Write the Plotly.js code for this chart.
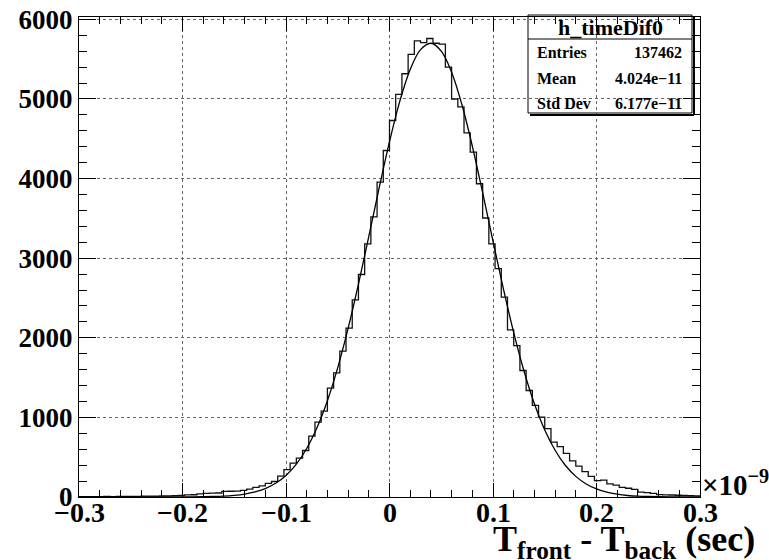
<!DOCTYPE html>
<html>
<head>
<meta charset="utf-8">
<script src="https://cdn.plot.ly/plotly-3.0.1.min.js"></script>
<style>html,body{margin:0;padding:0;background:#fff;}#chart{width:769px;height:560px;}</style>
</head>
<body>
<div id="chart"></div>
<script>
// ---- data ----
const histName = "h_timeDif0";
const xMin = -0.3;
const binWidth = 0.006;
const counts = [
  4, 3, 5, 4, 6, 5, 7, 8, 6, 9,
  10, 12, 11, 14, 15, 18, 21, 26, 28, 40,
  46, 48, 50, 70, 72, 74, 84, 100, 120, 140,
  170, 195, 262, 345, 425, 488, 584, 764, 940, 1078,
  1367, 1560, 1832, 2121, 2477, 2795, 3181, 3520, 3955, 4353,
  4730, 5057, 5317, 5560, 5730, 5708, 5760, 5700, 5690, 5400,
  5000, 4900, 4575, 4332, 3935, 3505, 3181, 2870, 2510, 2100,
  1902, 1589, 1338, 1150, 1004, 860, 690, 632, 548, 455,
  388, 320, 258, 205, 212, 166, 150, 120, 110, 95,
  62, 55, 45, 30, 27, 25, 22, 20, 18, 15
];
const fitX = [
  -0.30, -0.29, -0.28, -0.27, -0.26, -0.25, -0.24, -0.23, -0.22, -0.21,
  -0.20, -0.19, -0.18, -0.17, -0.16, -0.15, -0.14, -0.13, -0.12, -0.11,
  -0.10, -0.09, -0.08, -0.07, -0.06, -0.05, -0.04, -0.03, -0.02, -0.01,
  0.00, 0.01, 0.02, 0.03, 0.04, 0.05, 0.06, 0.07, 0.08, 0.09,
  0.10, 0.11, 0.12, 0.13, 0.14, 0.15, 0.16, 0.17, 0.18, 0.19,
  0.20, 0.21, 0.22, 0.23, 0.24, 0.25, 0.26, 0.27, 0.28, 0.29, 0.30
];
const fitY = [
  0, 0, 0, 0, 0, 0, 0, 0, 0.2, 0.4,
  0.7, 1.5, 3, 6, 11, 21, 37, 63, 106, 172,
  271, 412, 609, 872, 1209, 1625, 2118, 2675, 3274, 3883,
  4464, 4974, 5371, 5620, 5700, 5602, 5337, 4927, 4409, 3823,
  3213, 2617, 2066, 1580, 1171, 842, 587, 396, 259, 164,
  101, 60, 35, 19, 10, 6, 3, 1.5, 0.7, 0.3, 0.1
];
const xTickVals = [-0.3, -0.2, -0.1, 0, 0.1, 0.2, 0.3];
const xTickText = ["\u22120.3", "\u22120.2", "\u22120.1", "0", "0.1", "0.2", "0.3"];
const statLabels = ["Entries", "Mean", "Std Dev"];
const statValues = ["137462", "4.024e\u221211", "6.177e\u221211"];
const xTitle = "T<sub>front</sub> - T<sub>back</sub> (sec)";
const xExponent = "\u00d710<sup>\u22129</sup>";

// ---- build histogram outline ----
const histX = [], histY = [];
counts.forEach((c, i) => { histX.push(xMin + i * binWidth); histY.push(c); });
histX.push(xMin + counts.length * binWidth);
histY.push(counts[counts.length - 1]);

const FONT = "Liberation Serif, Times New Roman, serif";

const traces = [
  {x: histX, y: histY, type: 'scatter', mode: 'lines',
   line: {shape: 'hv', color: '#111', width: 1.3}, hoverinfo: 'skip'},
  {x: fitX, y: fitY, type: 'scatter', mode: 'lines',
   line: {shape: 'spline', color: '#000', width: 1.3}, hoverinfo: 'skip'}
];

// pixel -> paper helpers (plot area: l=79, t=17, w=621, h=480)
const L = 79, T = 17, W = 621, H = 480;
const px = v => (v - L) / W;
const py = v => (T + H - v) / H;

const annotations = [
  {text: histName, x: px(610), y: py(27), xref: 'paper', yref: 'paper',
   xanchor: 'center', yanchor: 'middle', showarrow: false,
   font: {family: FONT, size: 22, weight: 'bold', color: '#000'}},
  {text: xTitle, x: px(757), y: py(541), xref: 'paper', yref: 'paper',
   xanchor: 'right', yanchor: 'middle', showarrow: false,
   font: {family: FONT, size: 36, weight: 'bold', color: '#000'}},
  {text: xExponent, x: px(700), y: py(483), xref: 'paper', yref: 'paper',
   xanchor: 'left', yanchor: 'middle', showarrow: false,
   font: {family: FONT, size: 29, weight: 'bold', color: '#000'}}
];
xTickVals.forEach((v, i) => {
  annotations.push({text: xTickText[i], x: v, y: py(512), xref: 'x', yref: 'paper',
    xanchor: 'center', yanchor: 'middle', showarrow: false,
    font: {family: FONT, size: 28, weight: 'bold', color: '#000'}});
});
const rowY = [53, 78, 103];
statLabels.forEach((s, i) => {
  annotations.push({text: s, x: px(535), y: py(rowY[i]), xref: 'paper', yref: 'paper',
    xanchor: 'left', yanchor: 'middle', showarrow: false,
    font: {family: FONT, size: 16, weight: 'bold', color: '#000'}});
  annotations.push({text: statValues[i], x: px(684), y: py(rowY[i]), xref: 'paper', yref: 'paper',
    xanchor: 'right', yanchor: 'middle', showarrow: false,
    font: {family: FONT, size: 16, weight: 'bold', color: '#000'}});
});

const shapes = [
  {type: 'rect', xref: 'paper', yref: 'paper', x0: px(528), x1: px(692), y0: py(113), y1: py(15),
   line: {color: '#000', width: 1}, fillcolor: 'rgba(0,0,0,0)', layer: 'above'},
  {type: 'line', xref: 'paper', yref: 'paper', x0: px(528), x1: px(692), y0: py(39), y1: py(39),
   line: {color: '#000', width: 1}, layer: 'above'},
  {type: 'line', xref: 'paper', yref: 'paper', x0: px(694), x1: px(694), y0: py(115), y1: py(17),
   line: {color: '#000', width: 2}, layer: 'above'},
  {type: 'line', xref: 'paper', yref: 'paper', x0: px(530), x1: px(694), y0: py(115), y1: py(115),
   line: {color: '#000', width: 2}, layer: 'above'}
];

const layout = {
  width: 769, height: 560,
  margin: {l: L, r: 769 - L - W, t: T, b: 560 - T - H, pad: 0},
  paper_bgcolor: '#fff', plot_bgcolor: '#fff',
  showlegend: false,
  font: {family: FONT, color: '#000'},
  xaxis: {
    range: [-0.3, 0.3], tick0: -0.3, dtick: 0.1, tickmode: 'linear',
    ticks: 'inside', ticklen: 14, tickwidth: 1, tickcolor: '#000',
    showline: true, linecolor: '#000', linewidth: 1, mirror: 'ticks',
    showgrid: true, gridcolor: '#666', griddash: 'dot', gridwidth: 1,
    zeroline: false, showticklabels: false,
    minor: {dtick: 0.02, ticks: 'inside', ticklen: 7, tickcolor: '#000', showgrid: false}
  },
  yaxis: {
    range: [0, 6030], tick0: 0, dtick: 1000, tickmode: 'linear',
    ticks: 'inside', ticklen: 17, tickwidth: 1, tickcolor: '#000',
    showline: true, linecolor: '#000', linewidth: 1, mirror: 'ticks',
    showgrid: true, gridcolor: '#666', griddash: 'dot', gridwidth: 1,
    zeroline: false,
    tickfont: {family: FONT, size: 27, weight: 'bold', color: '#000'},
    minor: {dtick: 200, ticks: 'inside', ticklen: 8, tickcolor: '#000', showgrid: false}
  },
  annotations: annotations,
  shapes: shapes
};

Plotly.newPlot('chart', traces, layout, {staticPlot: true, displayModeBar: false});
</script>
</body>
</html>
